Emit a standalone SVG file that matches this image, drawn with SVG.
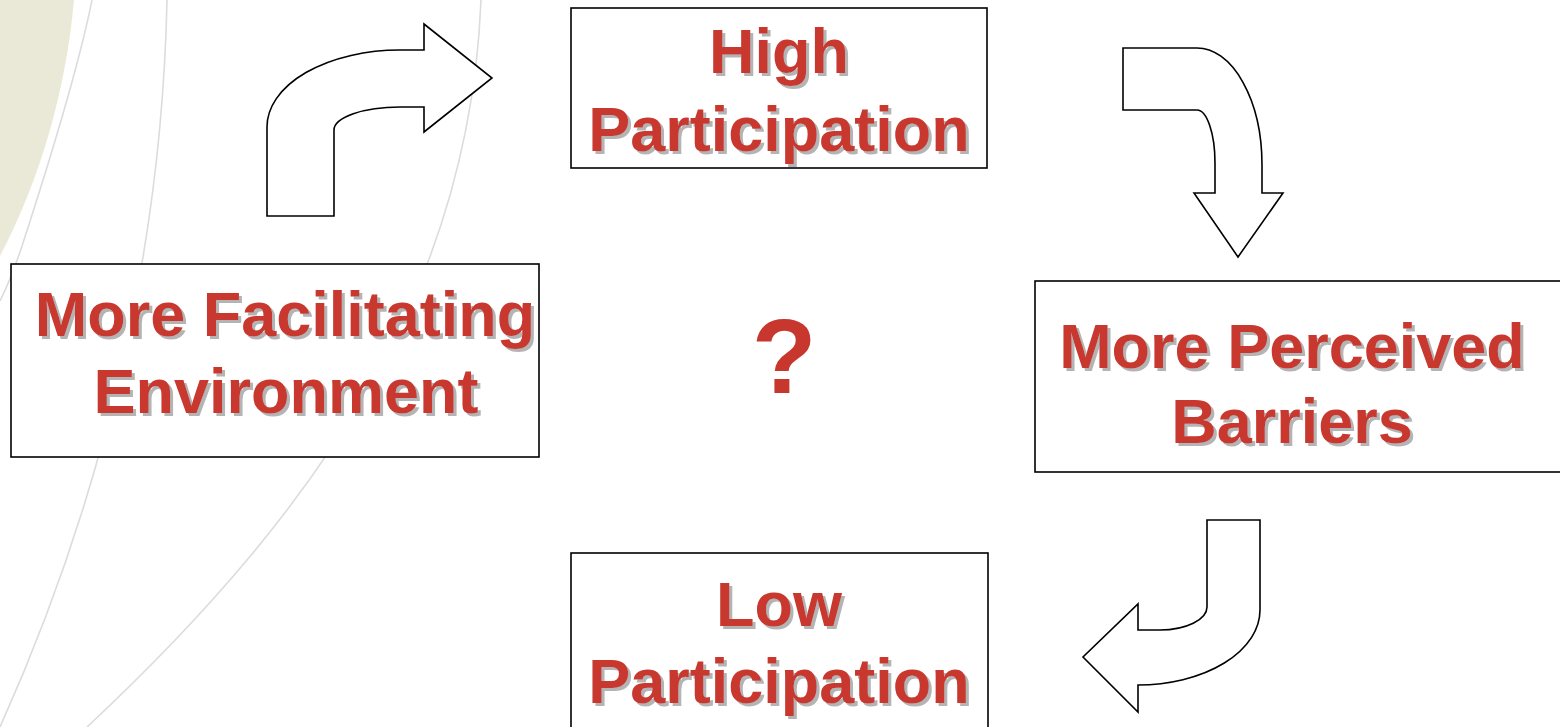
<svg xmlns="http://www.w3.org/2000/svg" width="1560" height="727" viewBox="0 0 1560 727">
<defs>
<style>
.box{fill:#fff;stroke:#000;stroke-width:1.6}
.arrow{fill:#fff;stroke:#000;stroke-width:1.6;stroke-linejoin:miter}
.lbl{font-family:"Liberation Sans",Arial,sans-serif;font-weight:bold;font-size:63px;fill:#C8372D;text-anchor:middle;filter:url(#shadow)}
.arc{fill:none;stroke:#DCDCDC;stroke-width:1.6}
</style>
<filter id="shadow" x="-5%" y="-20%" width="115%" height="150%">
<feDropShadow dx="3" dy="3" stdDeviation="0.4" flood-color="#B4B4B4" flood-opacity="1"/>
</filter>
</defs>
<rect width="1560" height="727" fill="#fff"/>
<g id="background">
<path d="M0,0 L74,0 C66,90 40,180 0,256 Z" fill="#EAE9D7"/>
<path class="arc" d="M92,0 C80,60 50,160 22,246 C14,270 8,285 0,301"/>
<path class="arc" d="M167,0 C162,240 108,487 0,727"/>
<path class="arc" d="M481,0 C470,280 330,500 87,727"/>
</g>
<g id="connectors">
<path class="arrow" d="M267,216 L267,127 A133,77 0 0 1 400,50 L424,50 L424,24 L492,78 L424,132 L424,107 L400,107 A66,23 0 0 0 334,130 L334,216 Z"/>
<path class="arrow" d="M1123,48 L1197,48 A65,117 0 0 1 1262,165 L1262,193 L1283,193 L1238,257 L1194,193 L1215,193 L1215,163 A18,53 0 0 0 1197,110 L1123,110 Z"/>
<path class="arrow" d="M1207,520 L1260,520 L1260,610 A122,75 0 0 1 1138,685 L1138,712 L1083,657 L1138,604 L1138,630 L1160,630 A47,23 0 0 0 1207,607 Z"/>
</g>
<g id="node-high">
<rect class="box" x="571" y="8" width="416" height="160"/>
<text class="lbl" x="779" y="73">High</text>
<text class="lbl" x="779" y="151">Participation</text>
</g>
<g id="node-env">
<rect class="box" x="11" y="264" width="528" height="193"/>
<text class="lbl" x="285" y="336">More Facilitating</text>
<text class="lbl" x="286" y="413">Environment</text>
</g>
<g id="node-barriers">
<rect class="box" x="1035" y="281" width="540" height="191"/>
<text class="lbl" x="1292" y="368">More Perceived</text>
<text class="lbl" x="1292" y="443">Barriers</text>
</g>
<g id="node-low">
<rect class="box" x="571" y="553" width="417" height="190"/>
<text class="lbl" x="779" y="626">Low</text>
<text class="lbl" x="779" y="703">Participation</text>
</g>
<g id="question">
<text x="784" y="393" font-family="'Liberation Sans',Arial,sans-serif" font-weight="bold" font-size="106" fill="#C8372D" text-anchor="middle">?</text>
</g>
</svg>
